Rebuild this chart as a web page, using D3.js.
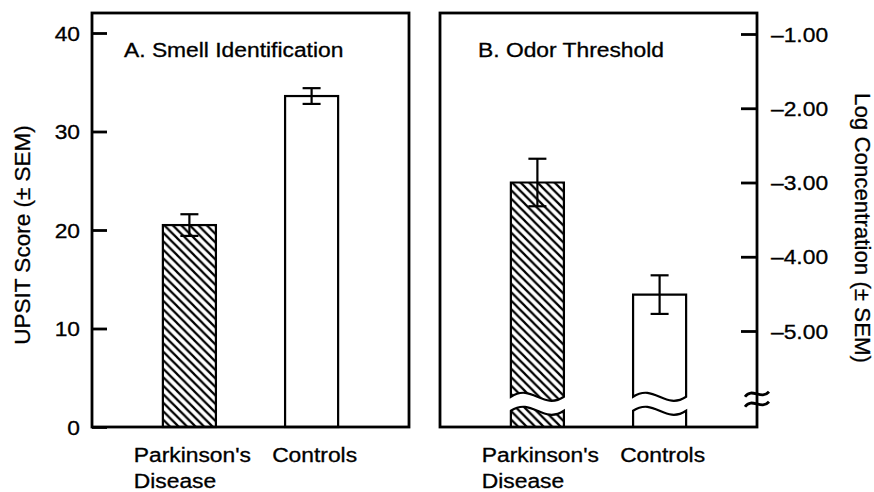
<!DOCTYPE html>
<html>
<head>
<meta charset="utf-8">
<script src="https://cdn.jsdelivr.net/npm/d3@7"></script>
<style>
  body { margin: 0; background: #fff; }
  svg text { font-family: "Liberation Sans", Arial, Helvetica, sans-serif; fill: #000; stroke: #000; stroke-width: 0.3px; }
</style>
</head>
<body>
<div id="chart"></div>
<script>
// data
const categories = ["Parkinson's Disease", "Controls"];
const categoryLines = [["Parkinson's", "Disease"], ["Controls"]];
const hatched = [true, false];

const upsitMean = [20.5, 33.6];
const upsitSem = [1.1, 0.8];
const upsitTicks = [0, 10, 20, 30, 40];

const threshMean = [-3.0, -4.51];
const threshSem = [0.32, 0.26];
const threshTicks = [-1, -2, -3, -4, -5];
const threshBreak = -5.98; // axis break below -5.00

// layout
const W = 874, H = 492;
const plotTop = 13, plotBottom = 427, panelW = 317;
const panelA = 92, panelB = 440;
const SX = 1.17; // the printed figure is stretched horizontally
const fs = 19.5;

const svg = d3.select("#chart").append("svg")
    .attr("width", W).attr("height", H);

svg.append("rect").attr("width", W).attr("height", H).attr("fill", "#fff");

// hatch pattern "\\\"
const defs = svg.append("defs");
defs.append("pattern")
    .attr("id", "hatch")
    .attr("patternUnits", "userSpaceOnUse")
    .attr("width", 8.5).attr("height", 8.5)
    .append("path")
    .attr("d", "M0,0L8.5,8.5M-3,5.5L3,11.5M5.5,-3L11.5,3")
    .attr("stroke", "#000").attr("stroke-width", 2.2);

const x = d3.scaleBand().domain(categories).range([0, panelW])
    .paddingInner(0.566).paddingOuter(0.58);

const yL = d3.scaleLinear().domain([0, 40]).range([plotBottom, 33]);
const yR = d3.scaleLinear().domain([-1, -5]).range([34, 331]);

function stext(g, px, py, str, anchor, size) {
    return g.append("text")
        .attr("transform", `translate(${px},${py}) scale(${SX},1)`)
        .attr("text-anchor", anchor || "start")
        .style("font-size", (size || fs) + "px")
        .text(str);
}

function errorBar(g, cx, yHi, yLo) {
    const e = g.append("g").attr("stroke", "#000").attr("stroke-width", 2.2);
    e.append("line").attr("x1", cx).attr("x2", cx).attr("y1", yHi).attr("y2", yLo);
    e.append("line").attr("x1", cx - 9).attr("x2", cx + 9).attr("y1", yHi).attr("y2", yHi);
    e.append("line").attr("x1", cx - 9).attr("x2", cx + 9).attr("y1", yLo).attr("y2", yLo);
}

function categoryLabels(g) {
    categoryLines.forEach((lines, i) => {
        const cx = x(categories[i]) + x.bandwidth() / 2 + 3;
        const t1 = stext(g, cx, 462, lines[0], "middle");
        if (lines.length > 1) {
            const w = t1.node().getComputedTextLength() * SX;
            stext(g, cx - w / 2, 488, lines[1], "start");
        }
    });
}

// ---------- Panel A ----------
const gA = svg.append("g").attr("transform", `translate(${panelA},0)`);

gA.selectAll("rect.bar")
    .data(categories)
    .join("rect")
    .attr("class", "bar")
    .attr("x", d => x(d))
    .attr("y", (d, i) => yL(upsitMean[i]))
    .attr("width", x.bandwidth())
    .attr("height", (d, i) => yL(0) - yL(upsitMean[i]))
    .attr("fill", (d, i) => hatched[i] ? "url(#hatch)" : "#fff")
    .attr("stroke", "#000").attr("stroke-width", 2.2);

categories.forEach((d, i) => {
    errorBar(gA, x(d) + x.bandwidth() / 2,
        yL(upsitMean[i] + upsitSem[i]), yL(upsitMean[i] - upsitSem[i]));
});

const axA = gA.append("g")
    .call(d3.axisLeft(yL).tickValues(upsitTicks).tickSize(-15).tickPadding(12));
axA.select(".domain").remove();
axA.selectAll(".tick line").attr("stroke-width", 2.8);
axA.selectAll(".tick text")
    .attr("x", -12 / SX).attr("dy", "0.36em")
    .attr("transform", `scale(${SX},1)`)
    .style("font-size", fs + "px");
axA.attr("font-family", null).attr("font-size", null);

gA.append("rect")
    .attr("x", 0).attr("y", plotTop).attr("width", panelW).attr("height", plotBottom - plotTop)
    .attr("fill", "none").attr("stroke", "#000").attr("stroke-width", 2.8);

stext(gA, 32, 57, "A. Smell Identification");
categoryLabels(gA);

svg.append("text")
    .attr("transform", `translate(30,235) rotate(-90)`)
    .attr("text-anchor", "middle")
    .style("font-size", "22.5px")
    .text("UPSIT Score (± SEM)");

// ---------- Panel B ----------
const gB = svg.append("g").attr("transform", `translate(${panelB},0)`);

const waveK = 14, gap = 7;
function topPiece(x0, x1, yTop, yc) {
    const w = x1 - x0;
    return `M${x0},${yTop}L${x1},${yTop}L${x1},${yc}` +
        `C${x0 + 0.6 * w},${yc + waveK} ${x0 + 0.4 * w},${yc - waveK} ${x0},${yc}Z`;
}
function bottomPiece(x0, x1, yc, yFloor) {
    const w = x1 - x0;
    return `M${x0},${yFloor}L${x0},${yc}` +
        `C${x0 + 0.4 * w},${yc - waveK} ${x0 + 0.6 * w},${yc + waveK} ${x1},${yc}L${x1},${yFloor}`;
}

const yBreak = yR(threshBreak);
categories.forEach((d, i) => {
    const x0 = x(d), x1 = x(d) + x.bandwidth();
    const fill = hatched[i] ? "url(#hatch)" : "#fff";
    gB.append("path")
        .attr("d", topPiece(x0, x1, yR(threshMean[i]), yBreak - gap))
        .attr("fill", fill).attr("stroke", "#000").attr("stroke-width", 2.2);
    gB.append("path")
        .attr("d", bottomPiece(x0, x1, yBreak + gap, plotBottom))
        .attr("fill", fill).attr("stroke", "#000").attr("stroke-width", 2.2);
    errorBar(gB, x0 + x.bandwidth() / 2,
        yR(threshMean[i] + threshSem[i]), yR(threshMean[i] - threshSem[i]));
});

const axB = gB.append("g")
    .attr("transform", `translate(${panelW},0)`)
    .call(d3.axisRight(yR).tickValues(threshTicks).tickSize(-16).tickPadding(14)
        .tickFormat(d => "\u2013" + Math.abs(d).toFixed(2)));
axB.select(".domain").remove();
axB.selectAll(".tick line").attr("stroke-width", 2.8);
axB.selectAll(".tick text")
    .attr("x", 14 / SX).attr("dy", "0.36em")
    .attr("transform", `scale(${SX},1)`)
    .style("font-size", fs + "px");
axB.attr("font-family", null).attr("font-size", null);

gB.append("rect")
    .attr("x", 0).attr("y", plotTop).attr("width", panelW).attr("height", plotBottom - plotTop)
    .attr("fill", "none").attr("stroke", "#000").attr("stroke-width", 2.8);

// axis break marks
[-9, 1].forEach(off => {
    const yy = yBreak + off;
    gB.append("path")
        .attr("d", `M${panelW - 12},${yy + 2}C${panelW - 5},${yy - 8} ${panelW + 4},${yy + 6} ${panelW + 12},${yy - 3}`)
        .attr("fill", "none").attr("stroke", "#000").attr("stroke-width", 2.8);
});

stext(gB, 38, 57, "B. Odor Threshold");
categoryLabels(gB);

svg.append("text")
    .attr("transform", `translate(855,228) rotate(90)`)
    .attr("text-anchor", "middle")
    .style("font-size", "22.3px")
    .text("Log Concentration (± SEM)");
</script>
</body>
</html>
